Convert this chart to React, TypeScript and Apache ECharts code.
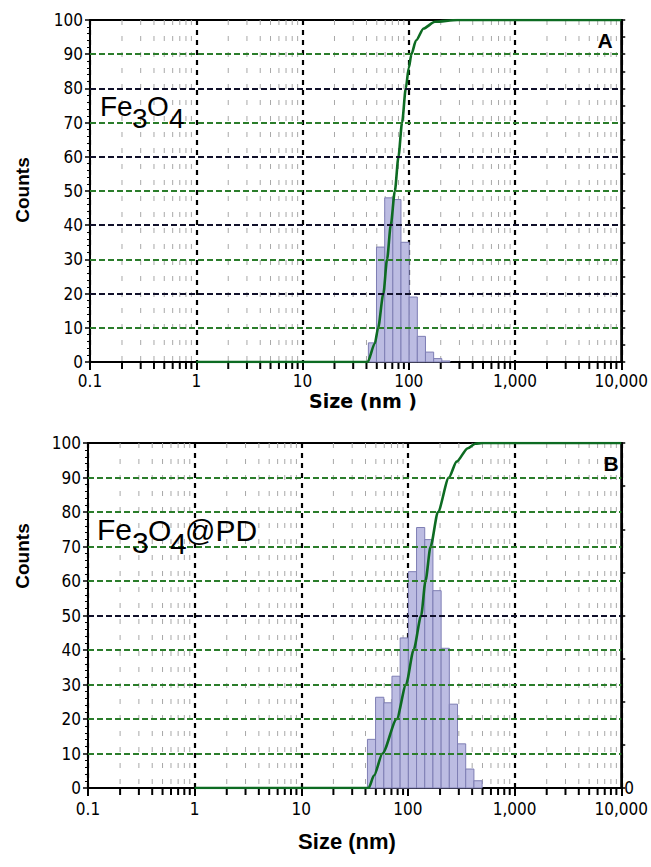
import React, { useEffect, useRef } from 'react';
import * as echarts from 'echarts';

// Histogram bin edges (nm), shared by both panels
const BIN_EDGES = [41.7, 49.7, 59.4, 70.8, 84.5, 100.9, 120.4, 143.7, 171.5, 204.7, 244.3, 291.6, 348.0, 415.4, 495.8];
// Panel A (Fe3O4) bar heights
const COUNTS_A = [5.6, 33.6, 48.0, 47.5, 35.0, 19.0, 7.5, 2.9, 1.0, 0.3];
// Panel B (Fe3O4@PD) bar heights
const COUNTS_B = [14.1, 26.3, 24.7, 32.4, 43.5, 62.7, 75.5, 72.0, 57.2, 40.5, 24.3, 12.8, 5.5, 2.1];

// Cumulative curves
const CUM_A_SIZE = [1, 41, 48, 51.5, 57.7, 62.5, 67.7, 74, 80, 86.5, 93.8, 100, 106, 117, 138, 176, 286, 10000];
const CUM_A_PCT = [0, 0, 5.5, 10, 20, 30, 40, 50, 60, 70, 80, 86, 90, 94, 97.5, 99.5, 100, 100];
const CUM_B_SIZE = [1, 42.8, 48, 57.7, 78.5, 96, 113, 133, 146, 163, 191, 242, 286, 364, 427, 500, 10000];
const CUM_B_PCT = [0, 0, 3.6, 10, 20, 30, 40, 50, 60, 70, 80, 90, 94.6, 98.5, 99.8, 100, 100];

// Axis ticks
const X_MINOR = [
  0.2, 0.3, 0.4, 0.5, 0.6, 0.7, 0.8, 0.9,
  2, 3, 4, 5, 6, 7, 8, 9,
  20, 30, 40, 50, 60, 70, 80, 90,
  200, 300, 400, 500, 600, 700, 800, 900,
  2000, 3000, 4000, 5000, 6000, 7000, 8000, 9000,
];
const Y_GRID = [10, 20, 30, 40, 50, 60, 70, 80, 90];

// styles
const GREEN = '#2b7d2b';
const DARK = '#10102a';
const GRID_COLORS_A = [GREEN, DARK, GREEN, DARK, GREEN, DARK, GREEN, DARK, GREEN];
const GRID_COLORS_B = [GREEN, GREEN, GREEN, GREEN, DARK, GREEN, GREEN, GREEN, GREEN];
const NARROW = "'Liberation Sans Narrow', 'DejaVu Sans Condensed', 'Liberation Sans', Arial, sans-serif";
const SANS = "'Liberation Sans', Arial, sans-serif";
const CURVE = '#0d6b22';
const BAR_FILL = '#bcbce2';
const BAR_STROKE = '#7e7eb4';

function xLabel(v: number): string {
  if (v < 0.5) return '0.1';
  return Math.round(v).toLocaleString('en-US');
}

function decoSeries(g: number, colors: string[]) {
  return {
    type: 'custom',
    xAxisIndex: g,
    yAxisIndex: g * 2,
    clip: false,
    silent: true,
    z: 1,
    data: X_MINOR.map((v) => [v, 0]),
    encode: { x: 0, y: 1 },
    renderItem: (params: any, api: any) => {
      const v = api.value(0);
      const b = api.coord([v, 0]);
      const t = api.coord([v, 100]);
      return {
        type: 'group',
        children: [
          {
            type: 'line',
            shape: { x1: b[0], y1: t[1], x2: b[0], y2: b[1] },
            style: { stroke: '#a8a8a8', lineWidth: 1, lineDash: [5, 11] },
          },
          {
            type: 'line',
            shape: { x1: b[0], y1: b[1], x2: b[0], y2: b[1] + 7 },
            style: { stroke: '#000', lineWidth: 2 },
          },
        ],
      };
    },
    markLine: {
      silent: true,
      symbol: ['none', 'none'],
      label: { show: false },
      animation: false,
      lineStyle: { width: 1.8, type: [6, 3] },
      data: Y_GRID.map((y, i) => ({ yAxis: y, lineStyle: { color: colors[i], width: 1.8, type: [6, 3] } })),
    },
  };
}

function barSeries(g: number, counts: number[]) {
  return {
    type: 'custom',
    xAxisIndex: g,
    yAxisIndex: g * 2,
    z: 3,
    silent: true,
    data: counts.map((c, i) => [BIN_EDGES[i], BIN_EDGES[i + 1], c]),
    encode: { x: [0, 1], y: 2 },
    renderItem: (params: any, api: any) => {
      const p0 = api.coord([api.value(0), 0]);
      const p1 = api.coord([api.value(1), api.value(2)]);
      return {
        type: 'rect',
        shape: { x: p0[0], y: p1[1], width: p1[0] - p0[0], height: p0[1] - p1[1] },
        style: { fill: BAR_FILL, stroke: BAR_STROKE, lineWidth: 1 },
      };
    },
  };
}

function curveSeries(g: number, sizes: number[], pct: number[]) {
  return {
    type: 'line',
    xAxisIndex: g,
    yAxisIndex: g * 2,
    z: 4,
    silent: true,
    showSymbol: false,
    smooth: 0.25,
    smoothMonotone: 'x',
    data: sizes.map((s, i) => [s, pct[i]]),
    lineStyle: { color: CURVE, width: 2.6 },
  };
}

function xAxisCfg(g: number, margin: number) {
  return {
    type: 'log',
    gridIndex: g,
    logBase: 10,
    min: 0.1,
    max: 10000,
    axisLine: { show: true, onZero: false, lineStyle: { color: '#000', width: 2 } },
    axisTick: { show: true, length: 8, lineStyle: { color: '#000', width: 2 } },
    axisLabel: { color: '#000', fontSize: 17, fontFamily: NARROW, margin, formatter: xLabel },
    splitLine: { show: true, lineStyle: { color: '#000', width: 2.2, type: [5, 5] } },
  };
}

function leftY(g: number) {
  return {
    type: 'value',
    gridIndex: g,
    position: 'left',
    min: 0,
    max: 100,
    interval: 10,
    axisLine: { show: true, lineStyle: { color: '#000', width: 2 } },
    axisTick: { show: true, length: 5, lineStyle: { color: '#000', width: 1.5 } },
    minorTick: { show: true, splitNumber: 5, length: 3, lineStyle: { color: '#000', width: 1 } },
    axisLabel: { color: '#000', fontSize: 17, fontFamily: NARROW, margin: 7 },
    splitLine: { show: false },
  };
}

function rightY(g: number, interval: number, showZero: boolean) {
  return {
    type: 'value',
    gridIndex: g,
    position: 'right',
    min: 0,
    max: 100,
    interval,
    axisLine: { show: true, lineStyle: { color: '#000', width: 2 } },
    axisTick: { show: true, length: 4, lineStyle: { color: '#000', width: 1.5 } },
    axisLabel: {
      show: showZero,
      color: '#000',
      fontSize: 17,
      fontFamily: NARROW,
      margin: 3,
      formatter: (v: number) => (v === 0 ? '0' : ''),
    },
    splitLine: { show: false },
  };
}

function txt(x: number, y: number, text: string, size: number, extra: any = {}) {
  return {
    type: 'text',
    x,
    y,
    z: 10,
    style: {
      text,
      fontSize: size,
      fontFamily: SANS,
      fill: '#000',
      textAlign: 'left',
      textVerticalAlign: 'middle',
      ...extra,
    },
  };
}

export default function App() {
  const ref = useRef<HTMLDivElement>(null);
  useEffect(() => {
    if (!ref.current) return;
    const chart = echarts.init(ref.current, undefined, { renderer: 'svg' });
    const option: any = {
      animation: false,
      backgroundColor: '#fff',
      grid: [
        { left: 90, top: 20, width: 534, height: 342, show: true, borderColor: '#000', borderWidth: 2, backgroundColor: 'transparent' },
        { left: 88, top: 443, width: 536, height: 345, show: true, borderColor: '#000', borderWidth: 2, backgroundColor: 'transparent' },
      ],
      xAxis: [xAxisCfg(0, 10), xAxisCfg(1, 12)],
      yAxis: [leftY(0), rightY(0, 5, false), leftY(1), rightY(1, 12.5, true)],
      series: [
        decoSeries(0, GRID_COLORS_A),
        barSeries(0, COUNTS_A),
        curveSeries(0, CUM_A_SIZE, CUM_A_PCT),
        decoSeries(1, GRID_COLORS_B),
        barSeries(1, COUNTS_B),
        curveSeries(1, CUM_B_SIZE, CUM_B_PCT),
      ],
      graphic: [
        // Panel A labels
        txt(100, 106.5, 'Fe', 28),
        txt(132, 118, '3', 28),
        txt(147, 106.5, 'O', 28),
        txt(169, 118, '4', 28),
        txt(605, 40, 'A', 21, { fontWeight: 'bold', textAlign: 'center' }),
        { type: 'text', x: 22, y: 190, rotation: Math.PI / 2, z: 10,
          style: { text: 'Counts', fontSize: 19, fontWeight: 'bold', fontFamily: SANS, fill: '#000', textAlign: 'center', textVerticalAlign: 'middle' } },
        { type: 'text', x: 363, y: 401, z: 10,
          style: { text: 'Size (nm )', fontSize: 19, fontWeight: 'bold', fontFamily: "'DejaVu Sans', sans-serif", fill: '#000', textAlign: 'center', textVerticalAlign: 'middle' } },
        // Panel B labels
        txt(97, 529, 'Fe', 30),
        txt(132, 542, '3', 30),
        txt(148, 530, 'O', 30),
        txt(170, 543, '4', 30),
        txt(185, 530, '@PD', 30),
        txt(611, 463, 'B', 21, { fontWeight: 'bold', textAlign: 'center' }),
        { type: 'text', x: 22, y: 556, rotation: Math.PI / 2, z: 10,
          style: { text: 'Counts', fontSize: 19, fontWeight: 'bold', fontFamily: SANS, fill: '#000', textAlign: 'center', textVerticalAlign: 'middle' } },
        { type: 'text', x: 347, y: 841, z: 10,
          style: { text: 'Size (nm)', fontSize: 22, fontWeight: 'bold', fontFamily: SANS, fill: '#000', textAlign: 'center', textVerticalAlign: 'middle' } },
      ],
    };
    chart.setOption(option);
    return () => chart.dispose();
  }, []);
  return <div ref={ref} style={{ position: 'absolute', left: 0, top: 0, width: 651, height: 867 }} />;
}
